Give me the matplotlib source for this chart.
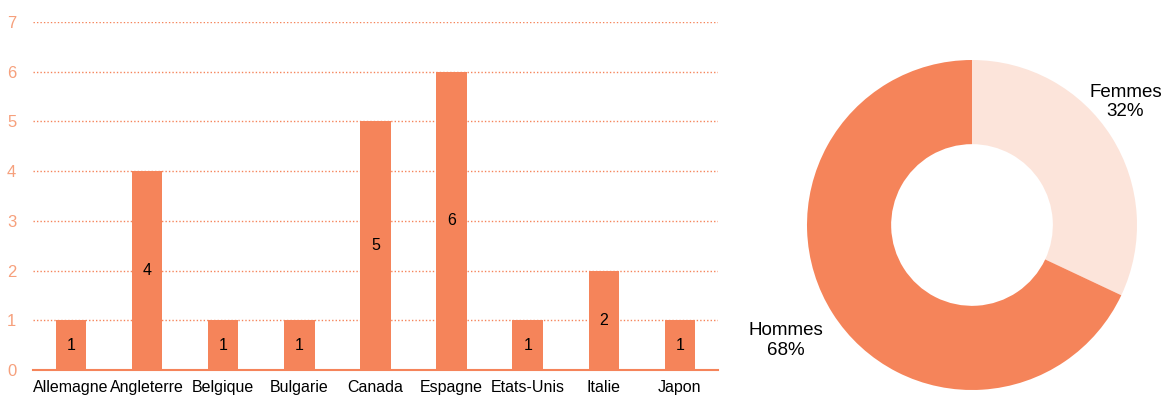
import matplotlib
matplotlib.use("Agg")
import matplotlib.pyplot as plt

plt.rcParams['font.family'] = ['Liberation Sans', 'DejaVu Sans']

countries = ["Allemagne", "Angleterre", "Belgique", "Bulgarie", "Canada",
             "Espagne", "Etats-Unis", "Italie", "Japon"]
counts = [1, 4, 1, 1, 5, 6, 1, 2, 1]
genders = ["Femmes", "Hommes"]
shares = [32, 68]

ORANGE = "#F5845A"
LIGHT = "#FCE4DA"
TICK = "#F6A07C"

fig = plt.figure(figsize=(11.63, 3.96), dpi=100)

ax = fig.add_axes([33/1163, 26/396, 685/1163, 348/396])
x = list(range(len(countries)))
bars = ax.bar(x, counts, width=0.4, color=ORANGE, zorder=3)
for xi, v in zip(x, counts):
    ax.text(xi, v/2, str(v), ha="center", va="center", fontsize=11.5, color="black", zorder=4)
ax.set_xlim(-0.5, len(countries) - 0.5)
ax.set_ylim(0, 7)
ax.set_yticks(range(0, 8))
ax.set_xticks(x)
ax.set_xticklabels(countries, fontsize=11.5, color="black")
ax.tick_params(axis="x", length=0, pad=7.5)
ax.tick_params(axis="y", length=0, pad=12, labelsize=12, labelcolor=TICK)
for s in ["top", "right", "left"]:
    ax.spines[s].set_visible(False)
ax.spines["bottom"].set_color(ORANGE)
ax.spines["bottom"].set_linewidth(1.5)
ax.spines["bottom"].set_zorder(5)
ax.grid(axis="y", color=ORANGE, linestyle=(0, (1, 1.5)), linewidth=1.0, zorder=0)
ax.set_axisbelow(True)

r = 165
pax = fig.add_axes([(972 - r)/1163, (396 - 225 - r)/396, 2*r/1163, 2*r/396])
pax.pie(shares, colors=[LIGHT, ORANGE], startangle=90, counterclock=False,
        radius=1, wedgeprops=dict(width=0.51, edgecolor="none"))
pax.set_xlim(-1, 1)
pax.set_ylim(-1, 1)
pax.set_aspect("equal")
pax.axis("off")
pax.text(0.93, 0.745, f"{genders[0]}\n{shares[0]}%", ha="center", va="center",
         fontsize=13.5, linespacing=1.2, clip_on=False)
pax.text(-1.13, -0.70, f"{genders[1]}\n{shares[1]}%", ha="center", va="center",
         fontsize=13.5, linespacing=1.2, clip_on=False)

fig.savefig("out.png", dpi=100)
